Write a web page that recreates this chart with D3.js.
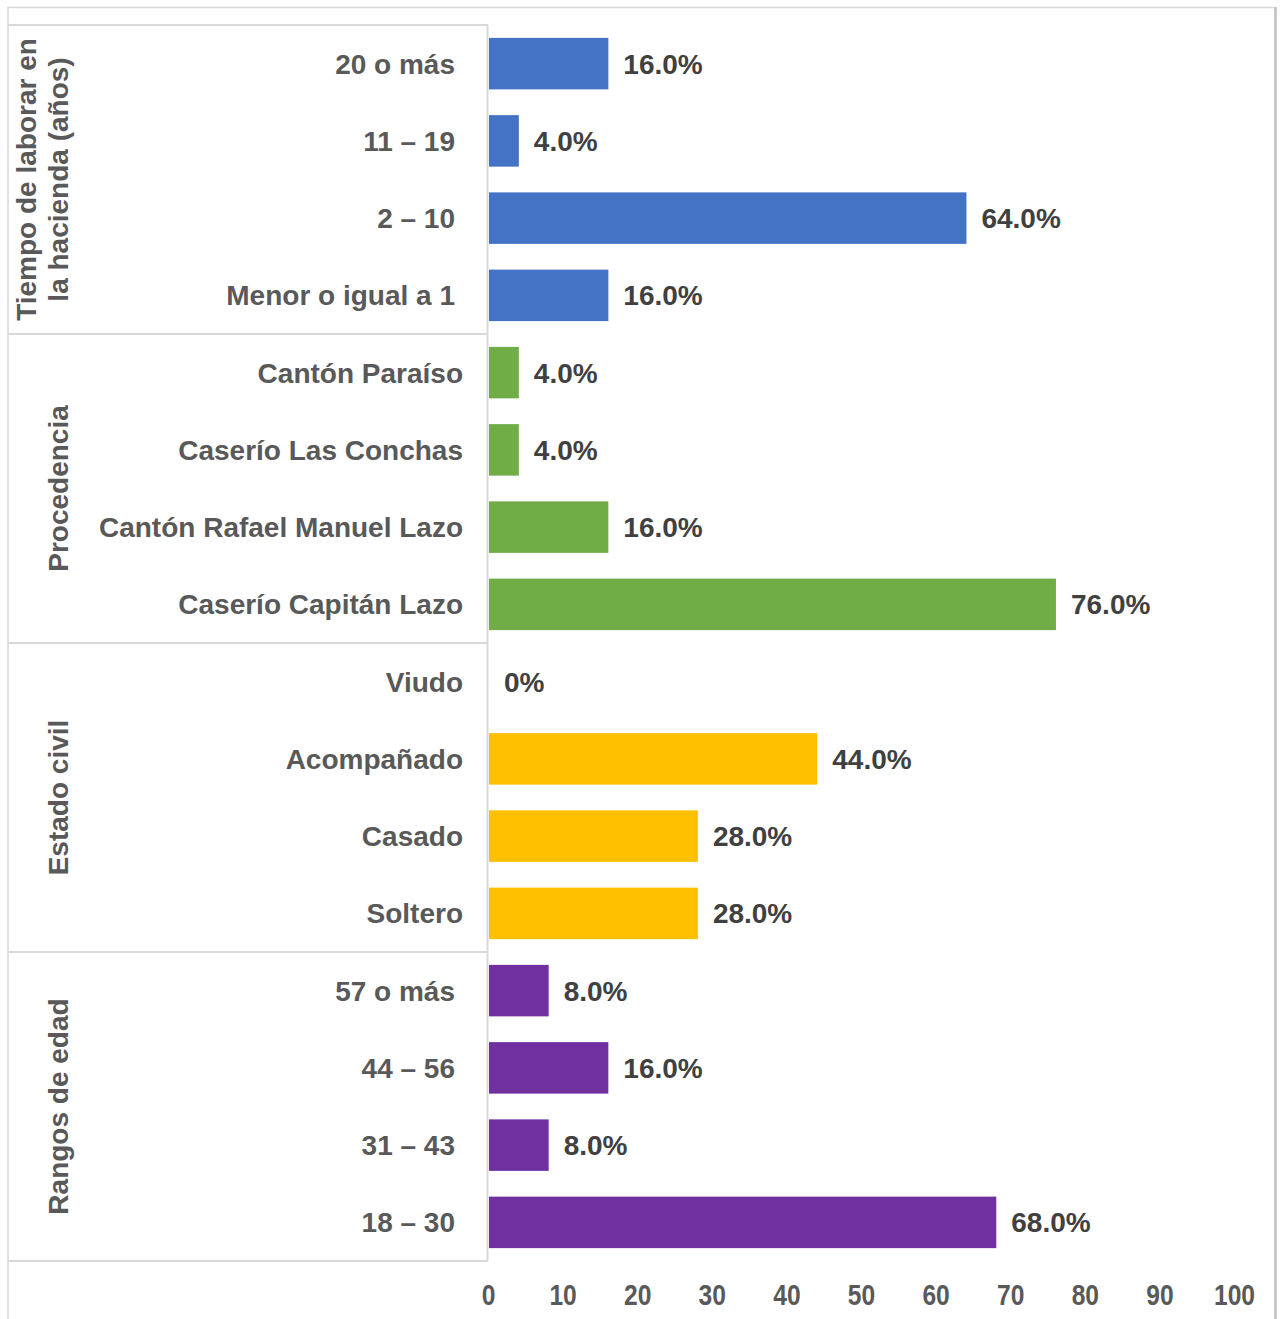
<!DOCTYPE html>
<html>
<head>
<meta charset="utf-8">
<script src="https://cdn.jsdelivr.net/npm/d3@7"></script>
<style>
  html, body { margin: 0; padding: 0; background: #fff; }
  svg { display: block; }
  text { font-family: "Liberation Sans", Arial, sans-serif; font-weight: bold; }
</style>
</head>
<body>
<svg id="chart" width="1281" height="1319"></svg>
<script>
// Group headings (each line of a heading is listed separately)
const groupLabels = [
  ["Tiempo de laborar en", "la hacienda (años)"],
  ["Procedencia"],
  ["Estado civil"],
  ["Rangos de edad"]
];
const groupColors = ["#4472C4", "#70AD47", "#FFC000", "#7030A0"];

// Categories, top to bottom, with the group each belongs to
const categories = [
  "20 o más", "11 – 19", "2 – 10", "Menor o igual a 1",
  "Cantón Paraíso", "Caserío Las Conchas", "Cantón Rafael Manuel Lazo", "Caserío Capitán Lazo",
  "Viudo", "Acompañado", "Casado", "Soltero",
  "57 o más", "44 – 56", "31 – 43", "18 – 30"
];
const categoryGroup = [0,0,0,0, 1,1,1,1, 2,2,2,2, 3,3,3,3];

// Percentages per category
const values = [16, 4, 64, 16, 4, 4, 16, 76, 0, 44, 28, 28, 8, 16, 8, 68];
const valueLabels = [
  "16.0%", "4.0%", "64.0%", "16.0%",
  "4.0%", "4.0%", "16.0%", "76.0%",
  "0%", "44.0%", "28.0%", "28.0%",
  "8.0%", "16.0%", "8.0%", "68.0%"
];

// Value axis ticks
const xTicks = [0, 10, 20, 30, 40, 50, 60, 70, 80, 90, 100];

// ---- layout ----
const svg = d3.select("#chart");
const plotLeft = 489, plotRight = 1235;
const plotTop = 25, plotBottom = 1261;
const tableLeft = 8;
const labelRight = [455, 463, 463, 455];   // right edge of category text per group
const lineColor = "#D9D9D9";
const fontSize = 28;

const x = d3.scaleLinear().domain([0, 100]).range([plotLeft, plotRight]);
const y = d3.scaleBand()
  .domain(d3.range(categories.length))
  .range([plotTop, plotBottom])
  .paddingInner(1/3)
  .paddingOuter(1/6);

// outer chart frame
svg.append("rect")
  .attr("x", 8).attr("y", 7.5)
  .attr("width", 1267).attr("height", 1340)
  .attr("fill", "none").attr("stroke", lineColor).attr("stroke-width", 1.5);
svg.append("line")
  .attr("x1", 1275.5).attr("x2", 1275.5).attr("y1", 7).attr("y2", 1319)
  .attr("stroke", "#C8C8C8").attr("stroke-width", 3);

// category table lines
const step = y.step();
const groupBounds = d3.range(groupLabels.length + 1).map(i => plotTop + i * 4 * step);
svg.selectAll("line.sep").data(groupBounds).join("line")
  .attr("class", "sep")
  .attr("x1", tableLeft).attr("x2", plotLeft - 1)
  .attr("y1", d => d).attr("y2", d => d)
  .attr("stroke", lineColor).attr("stroke-width", 2);
svg.append("line")
  .attr("x1", plotLeft - 1.5).attr("x2", plotLeft - 1.5)
  .attr("y1", plotTop).attr("y2", plotBottom)
  .attr("stroke", lineColor).attr("stroke-width", 2);

// bars
svg.selectAll("rect.bar").data(values).join("rect")
  .attr("class", "bar")
  .attr("x", x(0))
  .attr("y", (d, i) => y(i))
  .attr("width", d => x(d) - x(0))
  .attr("height", y.bandwidth())
  .attr("fill", (d, i) => groupColors[categoryGroup[i]]);

// value labels
svg.selectAll("text.val").data(values).join("text")
  .attr("class", "val")
  .attr("x", d => x(d) + 15)
  .attr("y", (d, i) => y(i) + y.bandwidth() / 2)
  .attr("dy", "0.36em")
  .attr("font-size", fontSize)
  .attr("fill", "#404040")
  .text((d, i) => valueLabels[i]);

// category labels
svg.selectAll("text.cat").data(categories).join("text")
  .attr("class", "cat")
  .attr("x", (d, i) => labelRight[categoryGroup[i]])
  .attr("y", (d, i) => y(i) + y.bandwidth() / 2)
  .attr("dy", "0.36em")
  .attr("text-anchor", "end")
  .attr("font-size", fontSize)
  .attr("fill", "#595959")
  .text(d => d);

// rotated group headings
groupLabels.forEach((lines, g) => {
  const cy = (groupBounds[g] + groupBounds[g + 1]) / 2;
  const lineGap = 32;
  const lastBaseline = 68;
  lines.forEach((ln, k) => {
    const bx = lastBaseline - (lines.length - 1 - k) * lineGap;
    svg.append("text")
      .attr("transform", `translate(${bx},${cy}) rotate(-90)`)
      .attr("text-anchor", "middle")
      .attr("font-size", fontSize)
      .attr("fill", "#595959")
      .text(ln);
  });
});

// value axis
const axis = svg.append("g")
  .attr("transform", `translate(-1, 1283)`)
  .call(d3.axisBottom(x).tickValues(xTicks).tickSize(0).tickPadding(0).tickFormat(d3.format("d")));
axis.select(".domain").remove();
axis.selectAll("text")
  .attr("font-size", 30)
  .attr("font-family", "'Liberation Sans', Arial, sans-serif")
  .attr("font-weight", "bold")
  .attr("fill", "#595959")
  .attr("dy", "0.72em")
  .attr("transform", "scale(0.82,1)");
</script>
</body>
</html>
